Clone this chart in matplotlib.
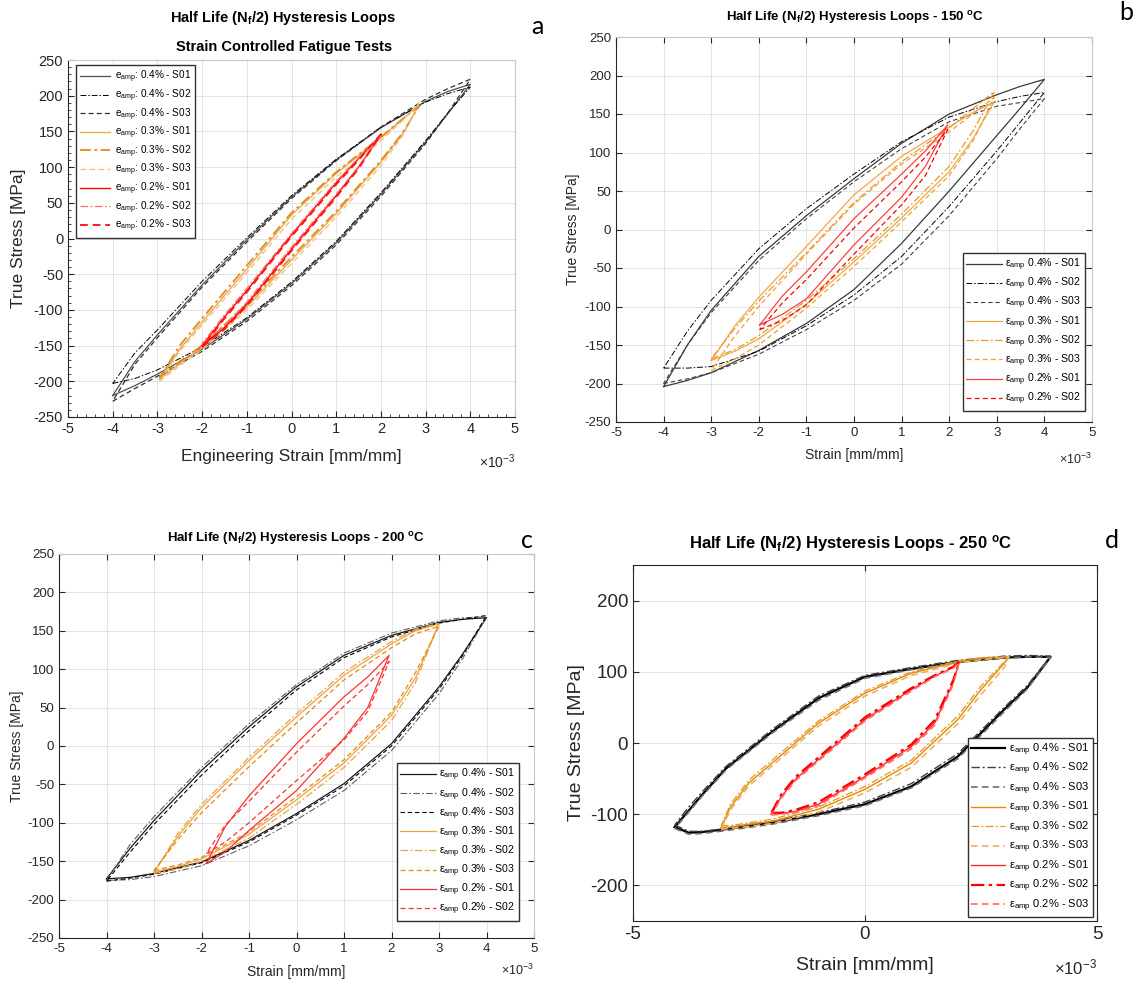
import matplotlib
matplotlib.use('Agg')
import matplotlib.pyplot as plt
from matplotlib.ticker import MultipleLocator, FuncFormatter
import numpy as np

plt.rcParams['font.family'] = ['Liberation Sans', 'DejaVu Sans']
plt.rcParams['mathtext.fontset'] = 'custom'
plt.rcParams['mathtext.rm'] = 'Liberation Sans'
plt.rcParams['mathtext.bf'] = 'Liberation Sans:bold'
plt.rcParams['mathtext.it'] = 'Liberation Sans:italic'
plt.rcParams['axes.unicode_minus'] = False

# ---------------- DATA (strain in 1e-3 mm/mm, stress in MPa) ----------------
# Panel a
A_STRAIN_04 = [-4.0, -3.5, -3.0, -2.0, -1.0, 0.0, 1.0, 2.0, 3.0, 3.5, 4.0]
A_04_S01_UP = [-220, -172, -135, -65, -2, 58, 110, 155, 192, 206, 216]
A_04_S01_LO = [-220, -206, -190, -155, -113, -63, -6, 62, 135, 175, 216]
A_04_S02_UP = [-203, -160, -128, -60, 1, 60, 111, 156, 191, 203, 212]
A_04_S02_LO = [-203, -196, -184, -152, -111, -61, -4, 64, 137, 176, 212]
A_04_S03_UP = [-228, -176, -139, -68, -5, 56, 109, 156, 195, 210, 223]
A_04_S03_LO = [-228, -210, -193, -158, -116, -66, -9, 59, 133, 176, 223]
A_STRAIN_03 = [-2.95, -2.5, -2.0, -1.0, 0.0, 1.0, 2.0, 2.5, 2.85]
A_03_S01_UP = [-197, -155, -117, -43, 33, 91, 141, 168, 187]
A_03_S01_LO = [-197, -175, -153, -96, -30, 35, 107, 148, 187]
A_03_S02_UP = [-195, -150, -112, -38, 36, 93, 142, 168, 185]
A_03_S02_LO = [-195, -172, -150, -92, -26, 38, 109, 149, 185]
A_03_S03_UP = [-200, -158, -121, -48, 27, 86, 137, 166, 190]
A_03_S03_LO = [-200, -178, -156, -100, -35, 30, 102, 145, 190]
A_STRAIN_02 = [-2.0, -1.5, -1.0, 0.0, 1.0, 1.5, 2.0]
A_02_S01_UP = [-150, -110, -73, 5, 78, 112, 145]
A_02_S01_LO = [-150, -125, -92, -15, 60, 100, 145]
A_02_S02_UP = [-147, -107, -70, 7, 80, 113, 144]
A_02_S02_LO = [-147, -122, -89, -12, 62, 101, 144]
A_02_S03_UP = [-152, -112, -75, 3, 76, 110, 146]
A_02_S03_LO = [-152, -127, -94, -17, 58, 98, 146]

# Panel b (150 C)
B_STRAIN_04 = [-4.0, -3.5, -3.0, -2.0, -1.0, 0.0, 1.0, 2.0, 3.0, 3.5, 4.0]
B_04_S01_UP = [-204, -150, -105, -35, 18, 66, 112, 150, 175, 186, 195]
B_04_S01_LO = [-204, -196, -186, -157, -122, -78, -18, 50, 122, 158, 195]
B_04_S02_UP = [-180, -132, -92, -25, 27, 72, 114, 146, 166, 173, 178]
B_04_S02_LO = [-180, -180, -178, -158, -125, -85, -35, 30, 102, 140, 178]
B_04_S03_UP = [-200, -150, -108, -40, 14, 62, 105, 140, 160, 165, 170]
B_04_S03_LO = [-200, -194, -186, -162, -130, -92, -45, 18, 92, 132, 170]
B_STRAIN_03 = [-3.0, -2.5, -2.0, -1.0, 0.0, 1.0, 2.0, 2.5, 2.95]
B_03_S01_UP = [-170, -125, -88, -22, 45, 95, 133, 152, 166]
B_03_S01_LO = [-170, -158, -142, -97, -42, 15, 75, 118, 166]
B_03_S02_UP = [-168, -128, -93, -30, 35, 88, 132, 157, 179]
B_03_S02_LO = [-168, -156, -138, -92, -38, 20, 82, 128, 179]
B_03_S03_UP = [-183, -138, -100, -32, 33, 85, 127, 150, 172]
B_03_S03_LO = [-183, -168, -150, -102, -48, 10, 70, 115, 172]
B_STRAIN_02 = [-1.98, -1.5, -1.0, 0.0, 1.0, 1.5, 1.97]
B_02_S01_UP = [-124, -86, -55, 14, 72, 102, 136]
B_02_S01_LO = [-124, -110, -90, -20, 42, 82, 136]
B_02_S02_UP = [-130, -95, -65, 2, 62, 94, 130]
B_02_S02_LO = [-130, -118, -98, -32, 32, 70, 130]

# Panel c (200 C)
C_STRAIN_04 = [-4.0, -3.5, -3.0, -2.0, -1.0, 0.0, 1.0, 2.0, 3.0, 3.5, 4.0]
C_04_S01_UP = [-173, -133, -97, -32, 25, 77, 118, 144, 161, 165, 167]
C_04_S01_LO = [-173, -171, -166, -151, -123, -88, -49, 3, 77, 120, 167]
C_04_S02_UP = [-175, -128, -92, -28, 29, 80, 121, 147, 163, 167, 168]
C_04_S02_LO = [-175, -174, -170, -156, -130, -96, -58, -6, 68, 114, 168]
C_04_S03_UP = [-176, -138, -102, -38, 20, 73, 115, 142, 160, 165, 170]
C_04_S03_LO = [-176, -172, -167, -152, -125, -90, -52, 0, 74, 118, 170]
C_STRAIN_03 = [-3.0, -2.5, -2.0, -1.0, 0.0, 1.0, 2.0, 2.5, 3.0]
C_03_S01_UP = [-164, -118, -80, -19, 38, 92, 133, 150, 159]
C_03_S01_LO = [-164, -157, -147, -115, -70, -22, 40, 88, 159]
C_03_S02_UP = [-166, -114, -76, -15, 42, 96, 136, 152, 160]
C_03_S02_LO = [-166, -160, -150, -120, -76, -28, 33, 82, 160]
C_03_S03_UP = [-162, -122, -87, -27, 30, 86, 128, 146, 156]
C_03_S03_LO = [-162, -155, -145, -112, -66, -18, 44, 95, 156]
C_STRAIN_02 = [-1.9, -1.5, -1.0, 0.0, 1.0, 1.5, 1.95]
C_02_S01_UP = [-153, -105, -65, 3, 64, 90, 118]
C_02_S01_LO = [-153, -138, -110, -58, 10, 50, 118]
C_02_S02_UP = [-140, -103, -72, -8, 52, 80, 110]
C_02_S02_LO = [-140, -125, -100, -45, 8, 45, 110]

# Panel d (250 C)
D_STRAIN_04 = [-4.1, -3.8, -3.5, -3.0, -2.0, -1.0, 0.0, 1.0, 2.0, 3.0, 3.5, 4.0]
D_04_S01_UP = [-118, -95, -72, -36, 16, 63, 93, 104, 114, 120, 121, 121]
D_04_S01_LO = [-118, -126, -125, -121, -112, -100, -86, -61, -19, 47, 78, 121]
D_04_S02_UP = [-115, -90, -68, -33, 19, 66, 95, 106, 116, 122, 123, 122]
D_04_S02_LO = [-115, -124, -124, -120, -110, -98, -83, -57, -15, 50, 81, 122]
D_04_S03_UP = [-120, -97, -74, -38, 14, 60, 91, 103, 113, 119, 121, 120]
D_04_S03_LO = [-120, -128, -127, -123, -114, -102, -88, -63, -22, 44, 76, 120]
D_STRAIN_03 = [-3.1, -2.9, -2.5, -2.0, -1.0, 0.0, 1.0, 2.0, 2.5, 3.0, 3.1]
D_03_S01_UP = [-119, -90, -56, -28, 28, 70, 98, 114, 119, 121, 121]
D_03_S01_LO = [-119, -118, -114, -110, -93, -65, -28, 33, 75, 112, 121]
D_03_S02_UP = [-116, -86, -52, -24, 31, 73, 100, 115, 120, 121, 120]
D_03_S02_LO = [-116, -116, -112, -107, -90, -61, -24, 38, 80, 114, 120]
D_03_S03_UP = [-121, -94, -60, -32, 24, 66, 95, 112, 117, 120, 122]
D_03_S03_LO = [-121, -120, -117, -113, -97, -70, -34, 27, 68, 106, 122]
D_STRAIN_02 = [-2.02, -1.8, -1.5, -1.0, 0.0, 1.0, 1.5, 1.9, 2.03]
D_02_S01_UP = [-100, -75, -51, -23, 33, 75, 94, 106, 114]
D_02_S01_LO = [-100, -99, -96, -86, -47, -5, 28, 85, 114]
D_02_S02_UP = [-98, -72, -48, -20, 36, 77, 95, 107, 114]
D_02_S02_LO = [-98, -98, -94, -83, -44, -2, 32, 88, 114]
D_02_S03_UP = [-101, -77, -53, -25, 31, 73, 93, 105, 113]
D_02_S03_LO = [-101, -100, -97, -88, -49, -8, 25, 82, 113]

X_TICKS_ABC = [-5, -4, -3, -2, -1, 0, 1, 2, 3, 4, 5]
Y_TICKS_ABC = [-250, -200, -150, -100, -50, 0, 50, 100, 150, 200, 250]
X_TICKS_D = [-5, 0, 5]
Y_TICKS_D = [-200, -100, 0, 100, 200]

TITLE_BASE = 'Half Life (N$_{\\mathbf{f}}$/2) Hysteresis Loops'
OFFSET_LABEL = '×10$^{\\mathrm{-3}}$'

# ---------------- STYLE ----------------
W, H = 1138, 982
fig = plt.figure(figsize=(W / 100, H / 100), dpi=100)
fig.patch.set_facecolor('white')

SOLID = '-'
DASHDOT = (0, (6, 2, 1.5, 2))
DASHED = (0, (4, 2.5))

def px_axes(l, r, t, b):
    return fig.add_axes([l / W, 1 - b / H, (r - l) / W, (b - t) / H])

def draw_loop(ax, strain, lo, up, label, color, ls, lw):
    s = np.asarray(strain) * 1e-3
    x = np.concatenate([s, s[::-1]])
    y = np.concatenate([np.asarray(lo), np.asarray(up)[::-1]])
    ax.plot(x, y, color=color, linestyle=ls, linewidth=lw, label=label)

def strain_fmt(v, pos):
    return '%g' % round(v * 1e3, 6)

def style_axes(ax, xt, yt, tick_fs, minor=False, box='light', spine_dark='#262626'):
    ax.set_xlim(-5e-3, 5e-3)
    ax.set_ylim(-250, 250)
    ax.set_xticks(np.asarray(xt) * 1e-3)
    ax.set_yticks(yt)
    ax.xaxis.set_major_formatter(FuncFormatter(strain_fmt))
    ax.grid(True, color='#E3E3E3', linewidth=0.7)
    ax.set_axisbelow(True)
    for sp in ['left', 'bottom']:
        ax.spines[sp].set_color(spine_dark)
        ax.spines[sp].set_linewidth(0.8)
    for sp in ['top', 'right']:
        if box == 'light':
            ax.spines[sp].set_color('#C8C8C8')
        else:
            ax.spines[sp].set_color(spine_dark)
        ax.spines[sp].set_linewidth(0.8)
    ax.tick_params(axis='both', which='both', direction='in', colors='#262626',
                   labelsize=tick_fs, labelcolor='#262626')
    if minor:
        ax.xaxis.set_minor_locator(MultipleLocator(0.2e-3))
        ax.yaxis.set_minor_locator(MultipleLocator(10))
        ax.tick_params(which='major', length=4)
        ax.tick_params(which='minor', length=2)
    else:
        ax.tick_params(which='major', length=4, top=True, right=True)

def offset_label(right_px, y_px, fs):
    fig.text(right_px / W, 1 - y_px / H, OFFSET_LABEL, ha='right', va='center',
             fontsize=fs, color='#262626')

# ---------------- PANEL A ----------------
axa = px_axes(68, 515, 60, 417)
k_a = [
    (A_STRAIN_04, A_04_S01_LO, A_04_S01_UP, 'e$_{\\mathrm{amp}}$: 0.4% - S01', '#505050', SOLID, 0.9),
    (A_STRAIN_04, A_04_S02_LO, A_04_S02_UP, 'e$_{\\mathrm{amp}}$: 0.4% - S02', '#000000', DASHDOT, 0.7),
    (A_STRAIN_04, A_04_S03_LO, A_04_S03_UP, 'e$_{\\mathrm{amp}}$: 0.4% - S03', '#303030', DASHED, 0.9),
    (A_STRAIN_03, A_03_S01_LO, A_03_S01_UP, 'e$_{\\mathrm{amp}}$: 0.3% - S01', '#EBAA55', SOLID, 1.0),
    (A_STRAIN_03, A_03_S02_LO, A_03_S02_UP, 'e$_{\\mathrm{amp}}$: 0.3% - S02', '#E08C1A', DASHDOT, 1.3),
    (A_STRAIN_03, A_03_S03_LO, A_03_S03_UP, 'e$_{\\mathrm{amp}}$: 0.3% - S03', '#F2C27E', DASHED, 1.0),
    (A_STRAIN_02, A_02_S01_LO, A_02_S01_UP, 'e$_{\\mathrm{amp}}$: 0.2% - S01', '#FF0000', SOLID, 1.0),
    (A_STRAIN_02, A_02_S02_LO, A_02_S02_UP, 'e$_{\\mathrm{amp}}$: 0.2% - S02', '#FF7070', DASHDOT, 0.9),
    (A_STRAIN_02, A_02_S03_LO, A_02_S03_UP, 'e$_{\\mathrm{amp}}$: 0.2% - S03', '#FF1A1A', DASHED, 1.4),
]
for s, lo, up, lab, c, ls, lw in k_a:
    draw_loop(axa, s, lo, up, lab, c, ls, lw)
style_axes(axa, X_TICKS_ABC, Y_TICKS_ABC, 10.5, minor=True)
axa.set_xlabel('Engineering Strain [mm/mm]', fontsize=12.5, color='#262626')
axa.set_ylabel('True Stress [MPa]', fontsize=12.5, color='#262626')
axa.xaxis.set_label_coords(0.5, -0.09)
axa.yaxis.set_label_coords(-0.095, 0.5)
axa.legend(loc='upper left', bbox_to_anchor=(0.018, 0.986), borderaxespad=0,
           fontsize=7.2, fancybox=False, edgecolor='#303030', framealpha=1,
           handlelength=3.0, labelspacing=0.22, borderpad=0.4, handletextpad=0.5)
offset_label(515, 462, 10)
fig.text(283 / W, 1 - 18 / H, TITLE_BASE, ha='center', va='center',
         fontsize=10.5, fontweight='bold')
fig.text(284 / W, 1 - 47 / H, 'Strain Controlled Fatigue Tests', ha='center',
         va='center', fontsize=10.5, fontweight='bold')
fig.text(537 / W, 1 - 27 / H, 'a', ha='center', va='center', fontsize=18,
         family='Lato')

# ---------------- PANEL B ----------------
axb = px_axes(616, 1092, 37, 422)
k_b = [
    (B_STRAIN_04, B_04_S01_LO, B_04_S01_UP, 'ε$_{\\mathrm{amp}}$ 0.4% - S01', '#3A3A3A', SOLID, 0.9),
    (B_STRAIN_04, B_04_S02_LO, B_04_S02_UP, 'ε$_{\\mathrm{amp}}$ 0.4% - S02', '#000000', DASHDOT, 0.7),
    (B_STRAIN_04, B_04_S03_LO, B_04_S03_UP, 'ε$_{\\mathrm{amp}}$ 0.4% - S03', '#404040', DASHED, 0.8),
    (B_STRAIN_03, B_03_S01_LO, B_03_S01_UP, 'ε$_{\\mathrm{amp}}$ 0.3% - S01', '#F0A845', SOLID, 0.9),
    (B_STRAIN_03, B_03_S02_LO, B_03_S02_UP, 'ε$_{\\mathrm{amp}}$ 0.3% - S02', '#E89A2A', DASHDOT, 0.9),
    (B_STRAIN_03, B_03_S03_LO, B_03_S03_UP, 'ε$_{\\mathrm{amp}}$ 0.3% - S03', '#F0A030', DASHED, 0.9),
    (B_STRAIN_02, B_02_S01_LO, B_02_S01_UP, 'ε$_{\\mathrm{amp}}$ 0.2% - S01', '#FF4040', SOLID, 0.9),
    (B_STRAIN_02, B_02_S02_LO, B_02_S02_UP, 'ε$_{\\mathrm{amp}}$ 0.2% - S02', '#FF0000', DASHED, 0.9),
]
for s, lo, up, lab, c, ls, lw in k_b:
    draw_loop(axb, s, lo, up, lab, c, ls, lw)
style_axes(axb, X_TICKS_ABC, Y_TICKS_ABC, 9.5)
axb.set_xlabel('Strain [mm/mm]', fontsize=10, color='#262626')
axb.set_ylabel('True Stress [MPa]', fontsize=10, color='#262626')
axb.xaxis.set_label_coords(0.5, -0.068)
axb.yaxis.set_label_coords(-0.076, 0.5)
axb.legend(loc='lower right', bbox_to_anchor=(0.985, 0.029), borderaxespad=0,
           fontsize=7.6, fancybox=False, edgecolor='#303030', framealpha=1,
           handlelength=3.4, labelspacing=0.26, borderpad=0.35, handletextpad=0.3)
offset_label(1092, 459, 9)
fig.text(855 / W, 1 - 18 / H, TITLE_BASE + ' - 150 $^{\\mathbf{o}}$C', ha='center',
         va='center', fontsize=9.5, fontweight='bold')
fig.text(1126 / W, 1 - 12 / H, 'b', ha='center', va='center', fontsize=18,
         family='Lato')

# ---------------- PANEL C ----------------
axc = px_axes(59, 534, 554, 938)
k_c = [
    (C_STRAIN_04, C_04_S01_LO, C_04_S01_UP, 'ε$_{\\mathrm{amp}}$ 0.4% - S01', '#1A1A1A', SOLID, 0.9),
    (C_STRAIN_04, C_04_S02_LO, C_04_S02_UP, 'ε$_{\\mathrm{amp}}$ 0.4% - S02', '#606060', DASHDOT, 0.8),
    (C_STRAIN_04, C_04_S03_LO, C_04_S03_UP, 'ε$_{\\mathrm{amp}}$ 0.4% - S03', '#000000', DASHED, 0.8),
    (C_STRAIN_03, C_03_S01_LO, C_03_S01_UP, 'ε$_{\\mathrm{amp}}$ 0.3% - S01', '#F0A040', SOLID, 0.9),
    (C_STRAIN_03, C_03_S02_LO, C_03_S02_UP, 'ε$_{\\mathrm{amp}}$ 0.3% - S02', '#E8A448', DASHDOT, 0.9),
    (C_STRAIN_03, C_03_S03_LO, C_03_S03_UP, 'ε$_{\\mathrm{amp}}$ 0.3% - S03', '#E58A10', DASHED, 0.9),
    (C_STRAIN_02, C_02_S01_LO, C_02_S01_UP, 'ε$_{\\mathrm{amp}}$ 0.2% - S01', '#FF3030', SOLID, 0.9),
    (C_STRAIN_02, C_02_S02_LO, C_02_S02_UP, 'ε$_{\\mathrm{amp}}$ 0.2% - S02', '#FF3030', DASHED, 0.9),
]
for s, lo, up, lab, c, ls, lw in k_c:
    draw_loop(axc, s, lo, up, lab, c, ls, lw)
style_axes(axc, X_TICKS_ABC, Y_TICKS_ABC, 9.5)
axc.set_xlabel('Strain [mm/mm]', fontsize=10, color='#262626')
axc.set_ylabel('True Stress [MPa]', fontsize=10, color='#262626')
axc.xaxis.set_label_coords(0.5, -0.07)
axc.yaxis.set_label_coords(-0.074, 0.5)
axc.legend(loc='lower right', bbox_to_anchor=(0.968, 0.044), borderaxespad=0,
           fontsize=7.6, fancybox=False, edgecolor='#303030', framealpha=1,
           handlelength=3.4, labelspacing=0.26, borderpad=0.35, handletextpad=0.3)
offset_label(534, 970, 9)
fig.text(296 / W, 1 - 538 / H, TITLE_BASE + ' - 200 $^{\\mathbf{o}}$C', ha='center',
         va='center', fontsize=9.5, fontweight='bold')
fig.text(527 / W, 1 - 541 / H, 'c', ha='center', va='center', fontsize=18,
         family='Lato')

# ---------------- PANEL D ----------------
axd = px_axes(633, 1097, 565, 921)
k_d = [
    (D_STRAIN_04, D_04_S01_LO, D_04_S01_UP, 'ε$_{\\mathrm{amp}}$ 0.4% - S01', '#000000', SOLID, 1.6),
    (D_STRAIN_04, D_04_S02_LO, D_04_S02_UP, 'ε$_{\\mathrm{amp}}$ 0.4% - S02', '#404040', DASHDOT, 1.0),
    (D_STRAIN_04, D_04_S03_LO, D_04_S03_UP, 'ε$_{\\mathrm{amp}}$ 0.4% - S03', '#707070', DASHED, 1.2),
    (D_STRAIN_03, D_03_S01_LO, D_03_S01_UP, 'ε$_{\\mathrm{amp}}$ 0.3% - S01', '#E08A00', SOLID, 1.0),
    (D_STRAIN_03, D_03_S02_LO, D_03_S02_UP, 'ε$_{\\mathrm{amp}}$ 0.3% - S02', '#E8952A', DASHDOT, 0.9),
    (D_STRAIN_03, D_03_S03_LO, D_03_S03_UP, 'ε$_{\\mathrm{amp}}$ 0.3% - S03', '#F0B060', DASHED, 1.2),
    (D_STRAIN_02, D_02_S01_LO, D_02_S01_UP, 'ε$_{\\mathrm{amp}}$ 0.2% - S01', '#FF2A2A', SOLID, 1.0),
    (D_STRAIN_02, D_02_S02_LO, D_02_S02_UP, 'ε$_{\\mathrm{amp}}$ 0.2% - S02', '#FF0000', DASHDOT, 1.6),
    (D_STRAIN_02, D_02_S03_LO, D_02_S03_UP, 'ε$_{\\mathrm{amp}}$ 0.2% - S03', '#FF6A6A', DASHED, 1.2),
]
for s, lo, up, lab, c, ls, lw in k_d:
    draw_loop(axd, s, lo, up, lab, c, ls, lw)
style_axes(axd, X_TICKS_D, Y_TICKS_D, 13.5, box='dark')
axd.set_xlabel('Strain [mm/mm]', fontsize=14, color='#262626')
axd.set_ylabel('True Stress [MPa]', fontsize=14, color='#262626')
axd.xaxis.set_label_coords(0.5, -0.1)
axd.yaxis.set_label_coords(-0.103, 0.5)
axd.legend(loc='lower right', bbox_to_anchor=(0.991, 0.011), borderaxespad=0,
           fontsize=8.0, fancybox=False, edgecolor='#303030', framealpha=1,
           handlelength=3.0, labelspacing=0.28, borderpad=0.3, handletextpad=0.4)
offset_label(1097, 967, 12)
fig.text(851 / W, 1 - 543 / H, TITLE_BASE + ' - 250 $^{\\mathbf{o}}$C', ha='center',
         va='center', fontsize=12, fontweight='bold')
fig.text(1112 / W, 1 - 540 / H, 'd', ha='center', va='center', fontsize=18,
         family='Lato')

fig.savefig('out.png', dpi=100, facecolor='white')
